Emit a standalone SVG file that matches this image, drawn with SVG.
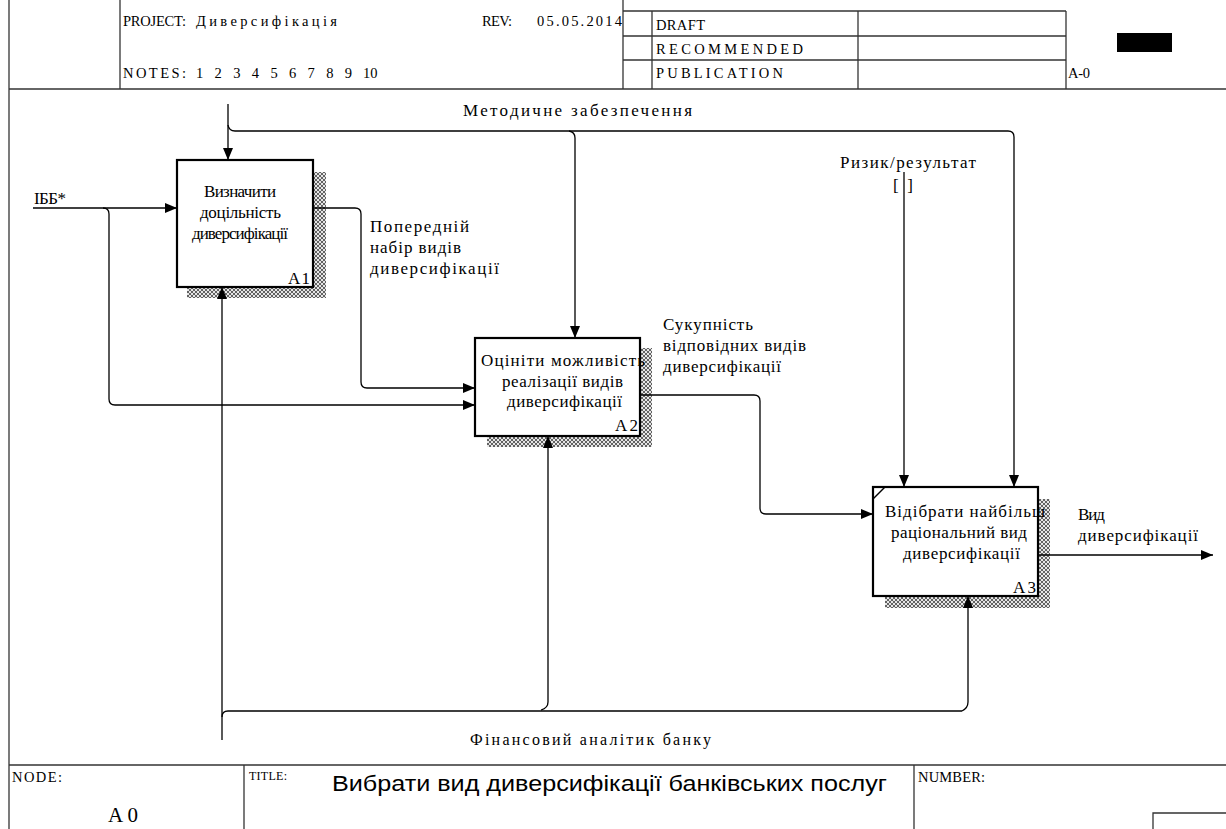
<svg xmlns="http://www.w3.org/2000/svg" width="1226" height="829" viewBox="0 0 1226 829">
<style>
.frame{stroke:#333;stroke-width:1.3;fill:none}
.t{font-family:"Liberation Serif","Times New Roman",serif;font-size:17px;fill:#000}
.hs{font-family:"Liberation Serif","Times New Roman",serif;font-size:14.5px;fill:#000}
.box{fill:#fff;stroke:#000;stroke-width:2.2}
.conn path{fill:none;stroke:#000;stroke-width:1.3}
.arr{marker-end:url(#ah)}
.shadow{fill:url(#hatch)}
</style>
<defs>
<pattern id="hatch" width="4" height="4" patternUnits="userSpaceOnUse">
<rect width="4" height="4" fill="#e6e6e6"/>
<path d="M0,0 L4,4 M4,0 L0,4" stroke="#555" stroke-width="0.9"/>
</pattern>
<marker id="ah" markerUnits="userSpaceOnUse" markerWidth="12" markerHeight="10" refX="12" refY="5" orient="auto">
<path d="M0,0 L12,5 L0,10 z" fill="#000"/>
</marker>
</defs>
<rect width="1226" height="829" fill="#fff"/>
<g id="frame">
<line class="frame" x1="9" y1="0" x2="9" y2="829"/>
<line class="frame" x1="9" y1="89" x2="1226" y2="89"/>
<line class="frame" x1="120" y1="0" x2="120" y2="89"/>
<line class="frame" x1="623" y1="0" x2="623" y2="89"/>
<line class="frame" x1="652" y1="11" x2="652" y2="89"/>
<line class="frame" x1="858" y1="11" x2="858" y2="89"/>
<line class="frame" x1="1066" y1="11" x2="1066" y2="89"/>
<line class="frame" x1="623" y1="11" x2="1066" y2="11"/>
<line class="frame" x1="623" y1="36" x2="1066" y2="36"/>
<line class="frame" x1="623" y1="60" x2="1066" y2="60"/>
<rect x="1117" y="33" width="55" height="19" fill="#000"/>
<text class="hs" x="123" y="26" textLength="63">PROJECT:</text>
<text class="hs" x="196" y="26" textLength="141">Диверсифікація</text>
<text class="hs" x="482" y="26" textLength="30">REV:</text>
<text class="hs" x="537" y="26" textLength="85">05.05.2014</text>
<text class="hs" x="123" y="78" textLength="63">NOTES:</text>
<text class="hs" y="78"><tspan x="196">1</tspan><tspan x="214.6">2</tspan><tspan x="233.2">3</tspan><tspan x="251.8">4</tspan><tspan x="270.4">5</tspan><tspan x="289">6</tspan><tspan x="307.6">7</tspan><tspan x="326.2">8</tspan><tspan x="344.8">9</tspan><tspan x="363">10</tspan></text>
<text class="hs" x="656" y="30" textLength="49">DRAFT</text>
<text class="hs" x="656" y="54" textLength="147">RECOMMENDED</text>
<text class="hs" x="656" y="78" textLength="127">PUBLICATION</text>
<text class="hs" x="1068" y="78" textLength="22">A-0</text>
<line class="frame" x1="9" y1="765" x2="1226" y2="765"/>
<line class="frame" x1="244" y1="765" x2="244" y2="829"/>
<line class="frame" x1="914" y1="765" x2="914" y2="829"/>
<polyline class="frame" points="1153,829 1153,813 1226,813"/>
<text class="hs" x="12" y="782" textLength="50">NODE:</text>
<text class="t" x="108" y="822" style="font-size:21px" textLength="30">A0</text>
<text class="hs" x="249" y="780" style="font-size:12px" textLength="38">TITLE:</text>
<text x="332" y="791" style="font-family:'Liberation Sans',Arial,sans-serif;font-size:22px" textLength="555" lengthAdjust="spacingAndGlyphs">Вибрати вид диверсифікації банківських послуг</text>
<text class="hs" x="918" y="782" textLength="67">NUMBER:</text>
</g>
<g id="A1">
<rect class="shadow" x="187" y="172" width="139" height="126"/>
<rect class="box" x="177" y="160" width="136" height="127"/>
<text class="t" x="204" y="197" textLength="72">Визначити</text>
<text class="t" x="200" y="218" textLength="81">доцільність</text>
<text class="t" x="192" y="239" textLength="96">диверсифікації</text>
<text class="t" x="288" y="284" textLength="22">A1</text>
</g>
<g id="A2">
<rect class="shadow" x="487" y="348" width="165" height="99"/>
<rect class="box" x="475" y="338" width="165" height="98"/>
<text class="t" x="481" y="366" textLength="164">Оцініти можливість</text>
<text class="t" x="502" y="387" textLength="121">реалізації видів</text>
<text class="t" x="507" y="407" textLength="115">диверсифікації</text>
<text class="t" x="615" y="431" textLength="23">A2</text>
</g>
<g id="A3">
<rect class="shadow" x="885" y="499" width="165" height="109"/>
<rect class="box" x="873" y="487" width="165" height="109"/>
<line x1="873" y1="499" x2="885" y2="487" stroke="#000" stroke-width="1.5"/>
<text class="t" x="885" y="517" textLength="160">Відібрати найбільш</text>
<text class="t" x="891" y="538" textLength="136">раціональний вид</text>
<text class="t" x="903" y="559" textLength="117">диверсифікації</text>
<text class="t" x="1013" y="593" textLength="23">A3</text>
</g>
<g id="connectors" class="conn">
<path class="arr" d="M228 104 V160"/>
<path class="arr" d="M228 125 Q229 131 235 131 H1008 Q1014 131 1014 137 V487"/>
<path class="arr" d="M569 131 Q575 132 575 138 V338"/>
<path class="arr" d="M33 208 H177"/>
<path class="arr" d="M103 208 Q109 208 109 214 V399 Q109 405 115 405 H475"/>
<path class="arr" d="M313 208 H355 Q361 208 361 214 V382 Q361 388 367 388 H475"/>
<path class="arr" d="M640 395 H754 Q760 395 760 401 V508 Q760 514 766 514 H873"/>
<path class="arr" d="M904 172 V487"/>
<path class="arr" d="M1038 555 H1213"/>
<path class="arr" d="M222 740 V287"/>
<path d="M222 717 Q222 711 228 711 H962"/>
<path class="arr" d="M541 710 Q548 708 548 702 V436"/>
<path class="arr" d="M962 711 Q968 708 968 702 V596"/>
</g>
<g id="labels">
<text class="t" x="463" y="116" textLength="229">Методичне забезпечення</text>
<text class="t" x="34" y="204" textLength="32">ІББ*</text>
<text class="t" x="370" y="232" textLength="99">Попередній</text>
<text class="t" x="370" y="253" textLength="91">набір видів</text>
<text class="t" x="370" y="274" textLength="129">диверсифікації</text>
<text class="t" x="663" y="330" textLength="90">Сукупність</text>
<text class="t" x="663" y="351" textLength="143">відповідних видів</text>
<text class="t" x="663" y="372" textLength="118">диверсифікації</text>
<text class="t" x="840" y="168" textLength="136">Ризик/результат</text>
<text class="t" x="893" y="191" textLength="20">[ ]</text>
<text class="t" x="1078" y="520" textLength="27">Вид</text>
<text class="t" x="1078" y="541" textLength="120">диверсифікації</text>
<text class="t" x="470" y="745" style="font-size:16px" textLength="241">Фінансовий аналітик банку</text>
</g>
</svg>
